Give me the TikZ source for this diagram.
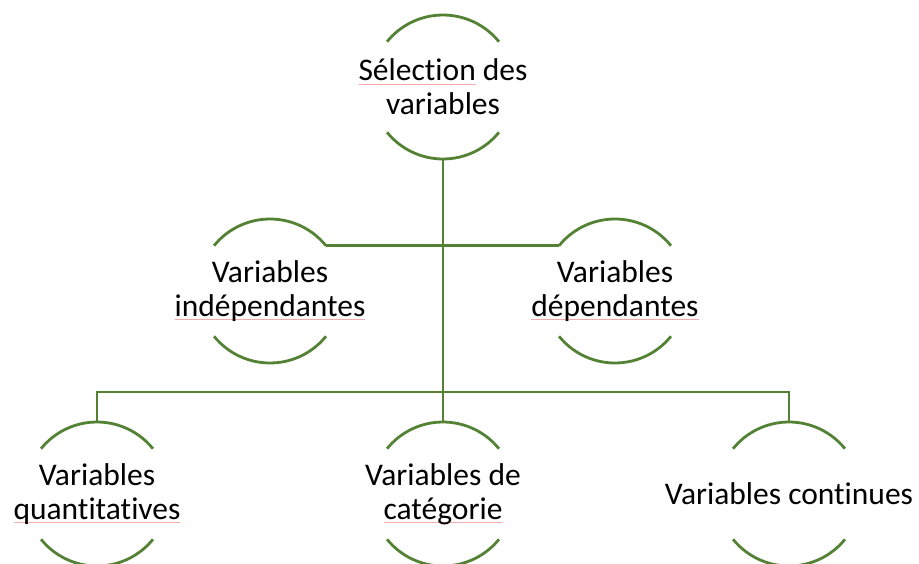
\documentclass[tikz,border=0pt]{standalone}
\usepackage{fontspec}
\setmainfont{Carlito}[Ligatures=NoCommon]
\usepackage{tikz}
\usetikzlibrary{positioning,calc}

\definecolor{leaf}{RGB}{84,130,53}
\definecolor{spellred}{RGB}{245,170,170}

% wavy spell-check mark under a word (drawn flat here)
\newcommand{\spell}[1]{\setbox0\hbox{#1}\rlap{\color{spellred}\rule[-3.5pt]{\wd0}{0.6pt}}#1}

\begin{document}
\begin{tikzpicture}[
    x=1pt, y=1pt,
    ring/.style={circle, minimum size=144pt, inner sep=0pt, outer sep=0pt},
    label text/.style={align=center, font=\fontsize{31.5}{34}\selectfont, inner sep=0pt},
    link/.style={draw=leaf, line width=2.8pt}
]
\useasboundingbox (0,0) rectangle (919,-563);

% circles
\node[ring] (sel) at (443,-87) {};
\node[ring] (ind) at (270,-291) {};
\node[ring] (dep) at (615,-291) {};
\node[ring] (quant) at (97,-494) {};
\node[ring] (cat) at (443,-494) {};
\node[ring] (cont) at (789,-494) {};

% texts
\node[label text] (sel-t) at (sel) {\spell{Sélection} des\\variables};
\node[label text] (ind-t) at (ind) {Variables\\\spell{indépendantes}};
\node[label text] (dep-t) at (dep) {Variables\\\spell{dépendantes}};
\node[label text] (quant-t) at (quant) {Variables\\\spell{quantitatives}};
\node[label text] (cat-t) at (cat) {Variables de\\\spell{catégorie}};
\node[label text] (cont-t) at (cont) {Variables continues};

% top and bottom arcs of each circle
\foreach \n in {sel,ind,dep,quant,cat,cont} {
  \draw[link] (\n.39) arc[start angle=39, end angle=141, radius=72];
  \draw[link] (\n.219) arc[start angle=219, end angle=321, radius=72];
}

% connectors
\coordinate (bar) at (443,-392);
\draw[link] (sel.south) -- (cat.north);
\draw[link] (ind.39) -- (dep.141);
\draw[link] (quant.north) |- (bar) -| (cont.north);

\end{tikzpicture}
\end{document}
